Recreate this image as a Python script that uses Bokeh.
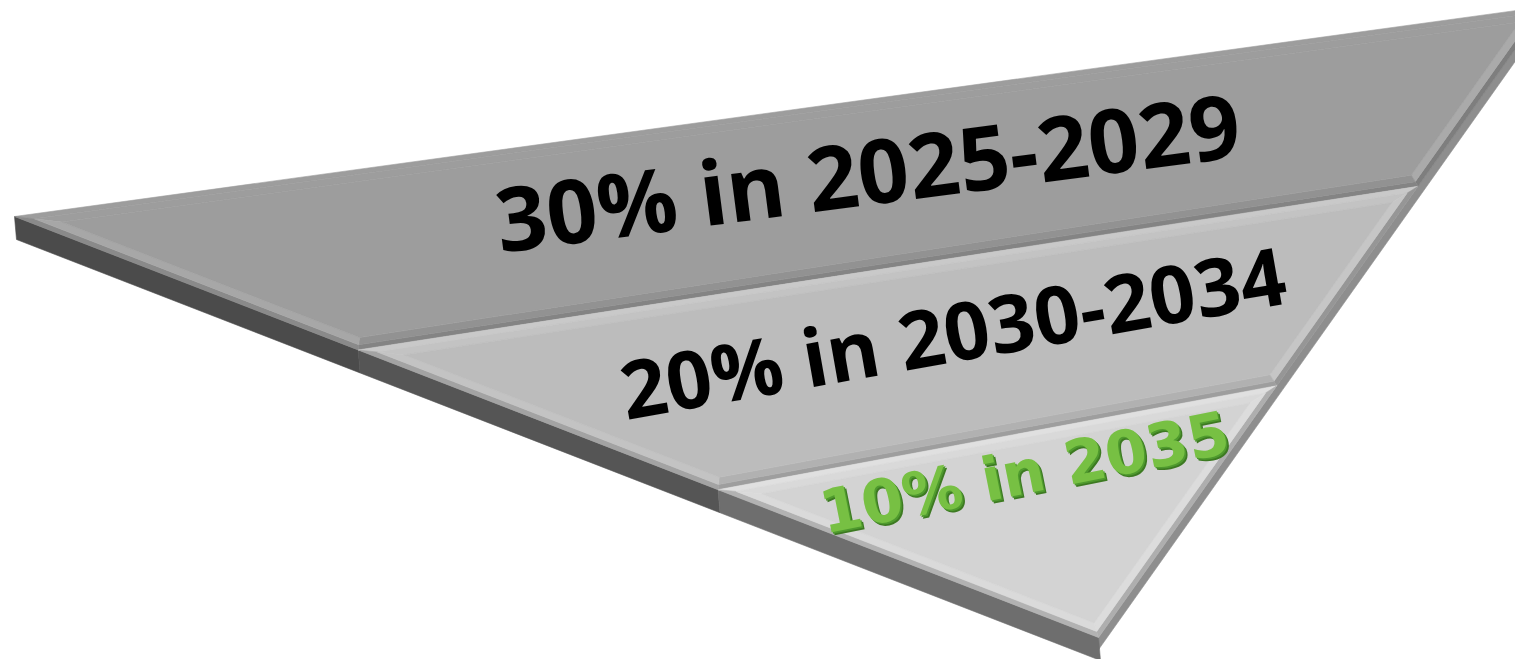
from bokeh.plotting import figure
from bokeh.models import Range1d, ColumnDataSource
from bokeh.core.properties import value
from bokeh.embed import file_html
from bokeh.resources import INLINE
import math

# ---------------- data ----------------
labels = ["30% in 2025-2029", "20% in 2030-2034", "10% in 2035"]
shares = [30, 20, 10]
label_colors = ["#000000", "#000000", "#77c043"]
face_colors = ["#9d9d9d", "#bcbcbc", "#d3d3d3"]
side_colors = ["#4b4b4b", "#555555", "#6e6e6e"]

# ---------------- layout (page pixels, y down) ----------------
L = (14.0, 216.0)      # left tip of the top face
R = (1545.0, 6.0)      # top-right corner (partly off-page)
B = (1098.0, 637.0)    # bottom tip of the top face
left_fracs = [0.0, 0.317, 0.649, 1.0]
right_fracs = [0.0, 0.285, 0.601, 1.0]
T_LEFT = (2.0, 23.0)
T_RIGHT = (-2.0, 15.0)


def lerp(a, b, t):
    return (a[0] + (b[0] - a[0]) * t, a[1] + (b[1] - a[1]) * t)


def add(a, b):
    return (a[0] + b[0], a[1] + b[1])


def inset(poly, d):
    n = len(poly)
    cx = sum(q[0] for q in poly) / n
    cy = sum(q[1] for q in poly) / n
    lines = []
    for i in range(n):
        a, b = poly[i], poly[(i + 1) % n]
        ux, uy = b[0] - a[0], b[1] - a[1]
        ln = math.hypot(ux, uy)
        ux, uy = ux / ln, uy / ln
        nx, ny = -uy, ux
        if nx * (cx - a[0]) + ny * (cy - a[1]) < 0:
            nx, ny = -nx, -ny
        lines.append(((a[0] + nx * d, a[1] + ny * d), (ux, uy)))
    out = []
    for i in range(n):
        (p1, u1), (p2, u2) = lines[i - 1], lines[i]
        det = u1[0] * (-u2[1]) - u1[1] * (-u2[0])
        rx, ry = p2[0] - p1[0], p2[1] - p1[1]
        s = (rx * (-u2[1]) - ry * (-u2[0])) / det
        out.append((p1[0] + u1[0] * s, p1[1] + u1[1] * s))
    return out


Lp = [lerp(L, B, f) for f in left_fracs]
Rp = [lerp(R, B, f) for f in right_fracs]

layers = [
    [Lp[0], Rp[0], Rp[1], Lp[1]],
    [Lp[1], Rp[1], Rp[2], Lp[2]],
    [Lp[2], Rp[2], B],
]
bevels = [
    [("#9d9d9d", "#9d9d9d"), ("#7e7e7e", "#aaaaaa"), ("#848484", "#929292"), ("#8a8a8a", "#a7a7a7")],
    [("#c9c9c9", "#c3c3c3"), ("#969696", "#c6c6c6"), ("#9e9e9e", "#b1b1b1"), ("#a3a3a3", "#c3c3c3")],
    [("#e0e0e0", "#d9d9d9"), ("#aeaeae", "#dcdcdc"), ("#b2b2b2", "#dadada")],
]

xs, ys, cols = [], [], []


def put(poly, c):
    xs.append([q[0] for q in poly])
    ys.append([-q[1] for q in poly])
    cols.append(c)


put([R, B, add(B, T_RIGHT), add(R, T_RIGHT)], "#8e8e8e")
for i in range(3):
    a, b = Lp[i], Lp[i + 1]
    put([a, b, add(b, T_LEFT), add(a, T_LEFT)], side_colors[i])

for k, poly in enumerate(layers):
    a1 = inset(poly, 5.0)
    a2 = inset(poly, 12.0)
    n = len(poly)
    for i in range(n):
        j = (i + 1) % n
        put([poly[i], poly[j], a1[j], a1[i]], bevels[k][i][0])
        put([a1[i], a1[j], a2[j], a2[i]], bevels[k][i][1])
    put(a2, face_colors[k])

W, H = 1515, 659
p = figure(width=W, height=H, x_range=Range1d(0, W), y_range=Range1d(-H, 0),
           output_backend="svg", toolbar_location=None, min_border=0)
p.axis.visible = False
p.grid.visible = False
p.outline_line_color = None
p.background_fill_color = "white"

src = ColumnDataSource(dict(xs=xs, ys=ys, c=cols))
p.patches("xs", "ys", source=src, fill_color="c", line_color="c", line_width=0.6)

# labels
tx = [867, 952, 1024]
ty = [170, 330, 472]
angles = [7.4, 10.0, 11.3]
sizes = ["89px", "80px", "60px"]
fonts = ["Open Sans", "Open Sans", "DejaVu Sans"]

for i in range(2):
    p.text(x=[tx[i]], y=[-ty[i]], text=[labels[i]], angle=[math.radians(angles[i])],
           text_font=value(fonts[i]), text_font_size=sizes[i], text_font_style="bold",
           text_color=label_colors[i], text_align="center", text_baseline="middle")

for off, col in [((3, 3), "#3d7a22"), ((1.5, 1.5), "#4f9a2e"), ((0, 0), label_colors[2])]:
    p.text(x=[tx[2] + off[0]], y=[-(ty[2] + off[1])], text=[labels[2]],
           angle=[math.radians(angles[2])], text_font=value(fonts[2]),
           text_font_size=sizes[2], text_font_style="bold", text_color=col,
           text_align="center", text_baseline="middle")

open("out.html", "w").write(file_html(p, INLINE))
